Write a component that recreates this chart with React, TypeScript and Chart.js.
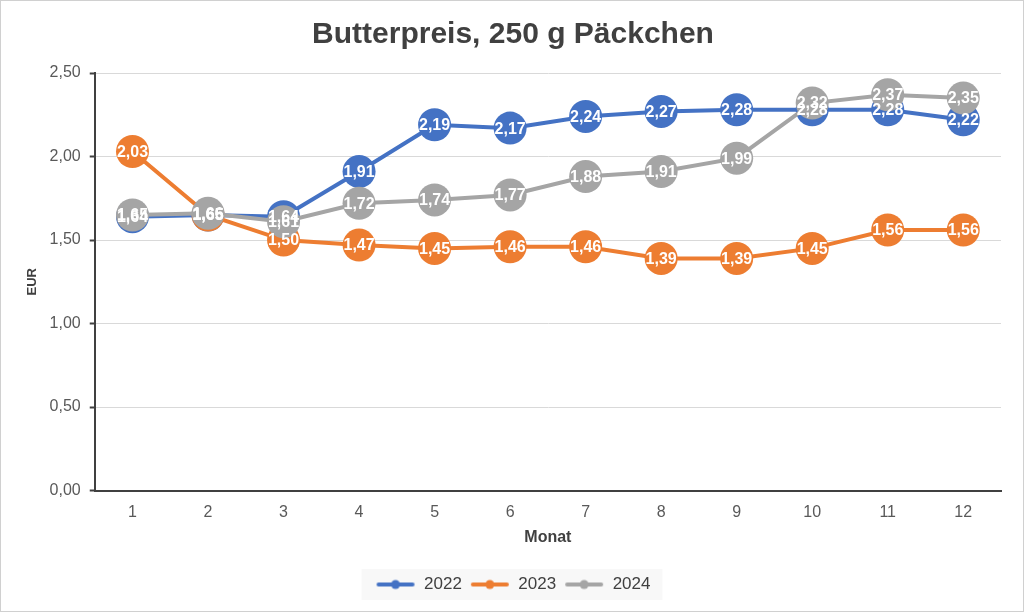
import React, { useEffect, useRef } from "react";
import { Chart, registerables } from "chart.js";

Chart.register(...registerables);

const months = ["1", "2", "3", "4", "5", "6", "7", "8", "9", "10", "11", "12"];
const seriesNames = ["2022", "2023", "2024"];
const values2022 = [1.64, 1.65, 1.64, 1.91, 2.19, 2.17, 2.24, 2.27, 2.28, 2.28, 2.28, 2.22];
const values2023 = [2.03, 1.65, 1.5, 1.47, 1.45, 1.46, 1.46, 1.39, 1.39, 1.45, 1.56, 1.56];
const values2024 = [1.65, 1.66, 1.61, 1.72, 1.74, 1.77, 1.88, 1.91, 1.99, 2.32, 2.37, 2.35];
const colors = ["#4472c4", "#ed7d31", "#a5a5a5"];
const yTicks = [0, 0.5, 1, 1.5, 2, 2.5];

const FONT = "'Liberation Sans', Arial, sans-serif";
const fmt = (v: number) => v.toFixed(2).replace(".", ",");

function legendImage(color: string) {
  const c = document.createElement("canvas");
  c.width = 40;
  c.height = 12;
  const ctx = c.getContext("2d")!;
  ctx.strokeStyle = color;
  ctx.lineWidth = 4;
  ctx.lineCap = "round";
  ctx.beginPath();
  ctx.moveTo(3, 6);
  ctx.lineTo(37, 6);
  ctx.stroke();
  ctx.fillStyle = color;
  ctx.beginPath();
  ctx.arc(20, 6, 4.5, 0, Math.PI * 2);
  ctx.fill();
  return c;
}

const labelPlugin = {
  id: "pointLabels",
  afterDatasetsDraw(chart: any) {
    const ctx = chart.ctx;
    ctx.save();
    ctx.font = `bold 16px ${FONT}`;
    ctx.fillStyle = "#ffffff";
    ctx.textAlign = "center";
    ctx.textBaseline = "middle";
    chart.data.datasets.forEach((ds: any, i: number) => {
      const meta = chart.getDatasetMeta(i);
      meta.data.forEach((pt: any, j: number) => {
        ctx.fillText(fmt(ds.data[j]), pt.x, pt.y + 1);
      });
    });
    ctx.restore();
  },
};

const legendBgPlugin = {
  id: "legendBg",
  beforeDraw(chart: any) {
    const boxes = chart.legend?.legendHitBoxes;
    if (!boxes || !boxes.length) return;
    let l = Infinity, r = -Infinity, t = Infinity, b = -Infinity;
    boxes.forEach((h: any) => {
      l = Math.min(l, h.left);
      r = Math.max(r, h.left + h.width);
      t = Math.min(t, h.top);
      b = Math.max(b, h.top + h.height);
    });
    const ctx = chart.ctx;
    ctx.save();
    ctx.fillStyle = "#f8f8f8";
    ctx.fillRect(l - 14, t - 7, r - l + 26, b - t + 14);
    ctx.restore();
  },
};

export default function App() {
  const ref = useRef<HTMLCanvasElement>(null);
  useEffect(() => {
    document.body.style.margin = "0";
    const data = [values2022, values2023, values2024];
    const chart = new Chart(ref.current!, {
      type: "line",
      data: {
        labels: months,
        datasets: seriesNames.map((name, i) => ({
          label: name,
          data: data[i],
          borderColor: colors[i],
          backgroundColor: colors[i],
          borderWidth: 4,
          pointRadius: 16.5,
          pointHoverRadius: 16.5,
          pointBorderWidth: 0,
          pointBackgroundColor: colors[i],
          tension: 0,
          order: 3 - i,
        })),
      },
      options: {
        animation: false,
        responsive: false,
        layout: { padding: { left: 24, right: 22, top: 10, bottom: 8 } },
        plugins: {
          tooltip: { enabled: false },
          title: {
            display: true,
            text: "Butterpreis, 250 g Päckchen",
            color: "#404040",
            font: { family: FONT, size: 30, weight: "bold" },
            padding: { top: 6, bottom: 20 },
          },
          legend: {
            position: "bottom",
            labels: {
              usePointStyle: true,
              pointStyleWidth: 40,
              color: "#404040",
              font: { family: FONT, size: 17 },
              padding: 8,
              generateLabels: (chart: any) =>
                chart.data.datasets.map((ds: any, i: number) => ({
                  text: ds.label,
                  pointStyle: legendImage(colors[i]),
                  fillStyle: colors[i],
                  strokeStyle: colors[i],
                  lineWidth: 0,
                  hidden: false,
                  datasetIndex: i,
                  fontColor: "#404040",
                })),
            },
          },
        },
        scales: {
          x: {
            offset: true,
            grid: { display: false, drawTicks: false },
            border: { display: true, color: "#404040", width: 2 },
            ticks: { color: "#595959", font: { family: FONT, size: 16 }, padding: 12 },
            title: {
              display: true,
              text: "Monat",
              color: "#404040",
              font: { family: FONT, size: 16, weight: "bold" },
              padding: { top: -6, bottom: 21 },
            },
          },
          y: {
            min: 0,
            max: 2.5,
            afterBuildTicks: (axis: any) => {
              axis.ticks = yTicks.map((v) => ({ value: v }));
            },
            grid: { color: "#d9d9d9", lineWidth: 1, tickColor: "#404040", tickLength: 5, tickWidth: 2 },
            border: { display: true, color: "#404040", width: 2 },
            ticks: {
              color: "#595959",
              font: { family: FONT, size: 16 },
              padding: 9,
              callback: (v: any) => fmt(Number(v)),
            },
            title: {
              display: true,
              text: "EUR",
              color: "#404040",
              font: { family: FONT, size: 13, weight: "bold" },
              padding: { top: 0, bottom: 0 },
            },
          },
        },
      },
      plugins: [labelPlugin, legendBgPlugin],
    } as any);
    return () => chart.destroy();
  }, []);
  return (
    <div
      style={{
        width: 1024,
        height: 612,
        boxSizing: "border-box",
        border: "1px solid #d0d0d0",
        background: "#ffffff",
        overflow: "hidden",
      }}
    >
      <canvas ref={ref} width={1022} height={610} style={{ display: "block" }} />
    </div>
  );
}
